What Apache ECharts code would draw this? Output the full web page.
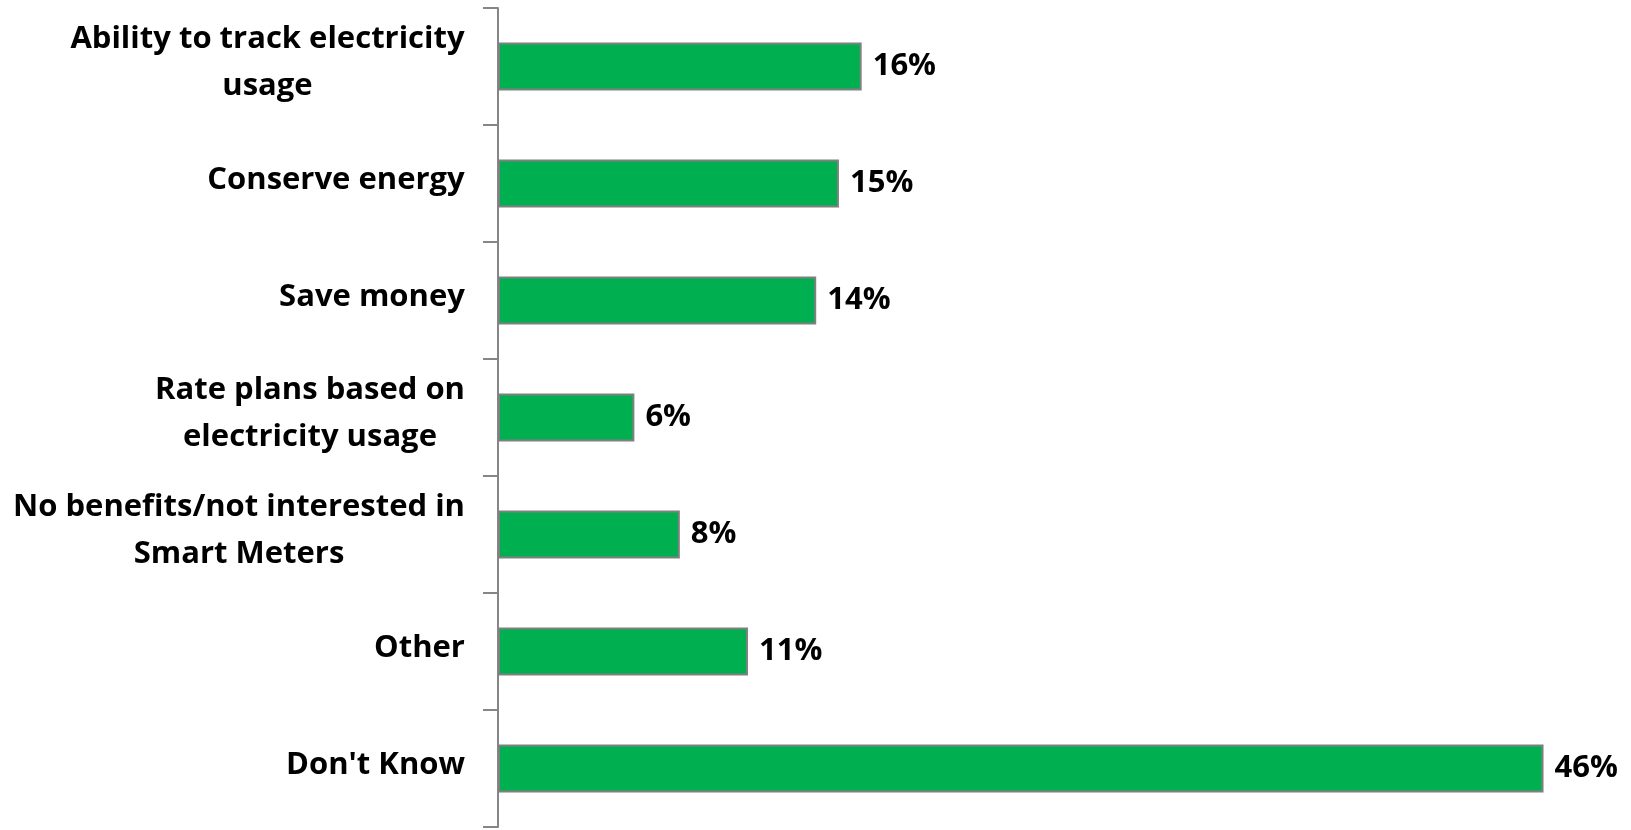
<!DOCTYPE html>
<html>
<head>
<meta charset="utf-8">
<script src="https://cdn.jsdelivr.net/npm/echarts@6/dist/echarts.min.js"></script>
<style>
  html, body { margin: 0; padding: 0; background: #ffffff; }
  #chart { width: 1631px; height: 830px; }
</style>
</head>
<body>
<div id="chart"></div>
<script>
// Survey responses: perceived benefits of Smart Meters
const categories = [
  'Ability to track electricity\nusage',
  'Conserve energy',
  'Save money',
  'Rate plans based on\nelectricity usage',
  'No benefits/not interested in\nSmart Meters',
  'Other',
  "Don't Know"
];
const shares = [16, 15, 14, 6, 8, 11, 46];

const FONT_FAMILY = '"Open Sans", sans-serif';
const FONT_SIZE = 31;

// Measure text so multi-line labels can have their lines centred
// within a block that is itself right-aligned against the axis.
const ctx = document.createElement('canvas').getContext('2d');
ctx.font = 'bold ' + FONT_SIZE + 'px ' + FONT_FAMILY;
const rich = {};
categories.forEach(function (c, i) {
  const w = Math.max.apply(null, c.split('\n').map(function (l) { return ctx.measureText(l).width; }));
  rich['c' + i] = {
    width: Math.ceil(w) + 2,
    align: 'center',
    fontFamily: FONT_FAMILY,
    fontWeight: 'bold',
    fontSize: FONT_SIZE,
    lineHeight: 47,
    color: '#000000'
  };
});

const chart = echarts.init(document.getElementById('chart'), null, { renderer: 'canvas' });
chart.setOption({
  animation: false,
  backgroundColor: '#ffffff',
  grid: { left: 498, right: 42, top: 8, bottom: 3, containLabel: false },
  xAxis: {
    type: 'value',
    min: 0,
    max: 48,
    show: false
  },
  yAxis: {
    type: 'category',
    data: categories,
    inverse: true,
    axisLine: { show: true, lineStyle: { color: '#868686', width: 2 } },
    axisTick: { show: true, length: 15, inside: false, lineStyle: { color: '#868686', width: 2 } },
    axisLabel: {
      margin: 32,
      align: 'right',
      padding: [0, 0, 7, 0],
      formatter: function (value) {
        const i = categories.indexOf(value);
        return value.split('\n').map(function (l) { return '{c' + i + '|' + l + '}'; }).join('\n');
      },
      rich: rich
    },
    splitLine: { show: false }
  },
  series: [{
    type: 'bar',
    data: shares,
    barWidth: 48,
    itemStyle: { color: '#00b050', borderColor: '#808080', borderWidth: 2 },
    label: {
      show: true,
      position: 'right',
      distance: 11,
      formatter: '{c}%',
      fontFamily: FONT_FAMILY,
      fontWeight: 'bold',
      fontSize: FONT_SIZE,
      color: '#000000'
    }
  }]
});
</script>
</body>
</html>
